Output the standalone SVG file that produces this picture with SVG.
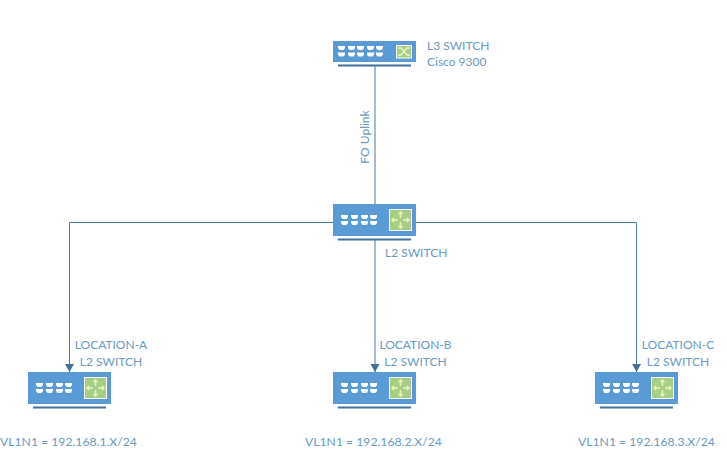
<svg xmlns="http://www.w3.org/2000/svg" width="727" height="472" viewBox="0 0 727 472">
  <style>
    text { font-family: "Lato", "Liberation Sans", sans-serif; font-size: 12px; fill: #6a9ac0; }
    .mid { text-anchor: middle; }
    .addr { font-size: 12.2px; }
    .body { fill: #5b9bd5; }
    .base { stroke: #41719c; stroke-width: 2; fill: none; }
    .panel { fill: #a6cf86; stroke: #ffffff; stroke-width: 1; }
    .glyph { stroke: #eef3c0; stroke-width: 1.400; fill: none; }
    .port { fill: #ffffff; }
    .wire { stroke: #4a7ba6; stroke-width: 1; fill: none; }
  </style>
  <defs>
    <marker id="head" markerWidth="10" markerHeight="10" refX="8" refY="4.500" orient="auto" markerUnits="userSpaceOnUse">
      <path d="M0 0L8 4.500L0 9Z" fill="#41719c"/>
    </marker>
    <path id="port" class="port" d="M0 0h7v2l-1.500 2h-4l-1.500-2Z"/>
    <!-- Access switch: four port pairs and a green routing panel -->
    <g id="l2">
      <rect class="body" x="0" y="0" width="83" height="32"/>
      <path class="base" d="M5 35.500H78"/>
      <use href="#port" x="8" y="11"/><use href="#port" x="18" y="11"/><use href="#port" x="28" y="11"/><use href="#port" x="37" y="11"/>
      <use href="#port" x="8" y="17"/><use href="#port" x="18" y="17"/><use href="#port" x="28" y="17"/><use href="#port" x="37" y="17"/>
      <rect class="panel" x="56.500" y="5.500" width="22" height="21"/>
      <path class="glyph" d="M67.500 8v6M67.500 18v6M59 16h6M70 16h6M65.500 10l2-2 2 2M65.500 22l2 2 2-2M61 14l-2 2 2 2M74 14l2 2-2 2"/>
    </g>
  </defs>

  <g id="connectors">
    <path class="wire" d="M375 66V204"/>
    <path class="wire" d="M333 222.500H69.500V372" marker-end="url(#head)"/>
    <path class="wire" d="M375 240V372" marker-end="url(#head)"/>
    <path class="wire" d="M416 222.500H636.500V372" marker-end="url(#head)"/>
  </g>
  <text class="mid" transform="translate(369 137) rotate(-90)">FO Uplink</text>

  <g id="l3-switch">
    <rect class="body" x="333" y="41" width="83" height="21"/>
    <path class="base" d="M338 65.500H411"/>
    <g>
      <use href="#port" x="338" y="46"/><use href="#port" x="348" y="46"/><use href="#port" x="357" y="46"/><use href="#port" x="367" y="46"/><use href="#port" x="376" y="46"/>
      <use href="#port" x="338" y="52.500"/><use href="#port" x="348" y="52.500"/><use href="#port" x="357" y="52.500"/><use href="#port" x="367" y="52.500"/><use href="#port" x="376" y="52.500"/>
    </g>
    <rect class="panel" x="396.500" y="45.500" width="15" height="12.500"/>
    <path class="glyph" d="M398 48h3l6 7h3M398 55h3l6-7h3"/>
    <text x="427" y="49.500">L3 SWITCH</text>
    <text x="427" y="65.500">Cisco 9300</text>
  </g>

  <g id="core-l2-switch">
    <use href="#l2" x="333" y="204"/>
    <text x="385" y="256.500">L2 SWITCH</text>
  </g>

  <g id="location-a">
    <use href="#l2" x="28" y="372"/>
    <text class="mid" x="111" y="348.500">LOCATION-A</text>
    <text class="mid" x="111" y="365.500">L2 SWITCH</text>
    <text class="addr" x="0" y="445.500">VL1N1 = 192.168.1.X/24</text>
  </g>

  <g id="location-b">
    <use href="#l2" x="333" y="372"/>
    <text class="mid" x="415.500" y="348.500">LOCATION-B</text>
    <text class="mid" x="415.500" y="365.500">L2 SWITCH</text>
    <text class="addr" x="305" y="445.500">VL1N1 = 192.168.2.X/24</text>
  </g>

  <g id="location-c">
    <use href="#l2" x="595" y="372"/>
    <text class="mid" x="678" y="348.500">LOCATION-C</text>
    <text class="mid" x="678" y="365.500">L2 SWITCH</text>
    <text class="addr" x="578" y="445.500">VL1N1 = 192.168.3.X/24</text>
  </g>
</svg>
